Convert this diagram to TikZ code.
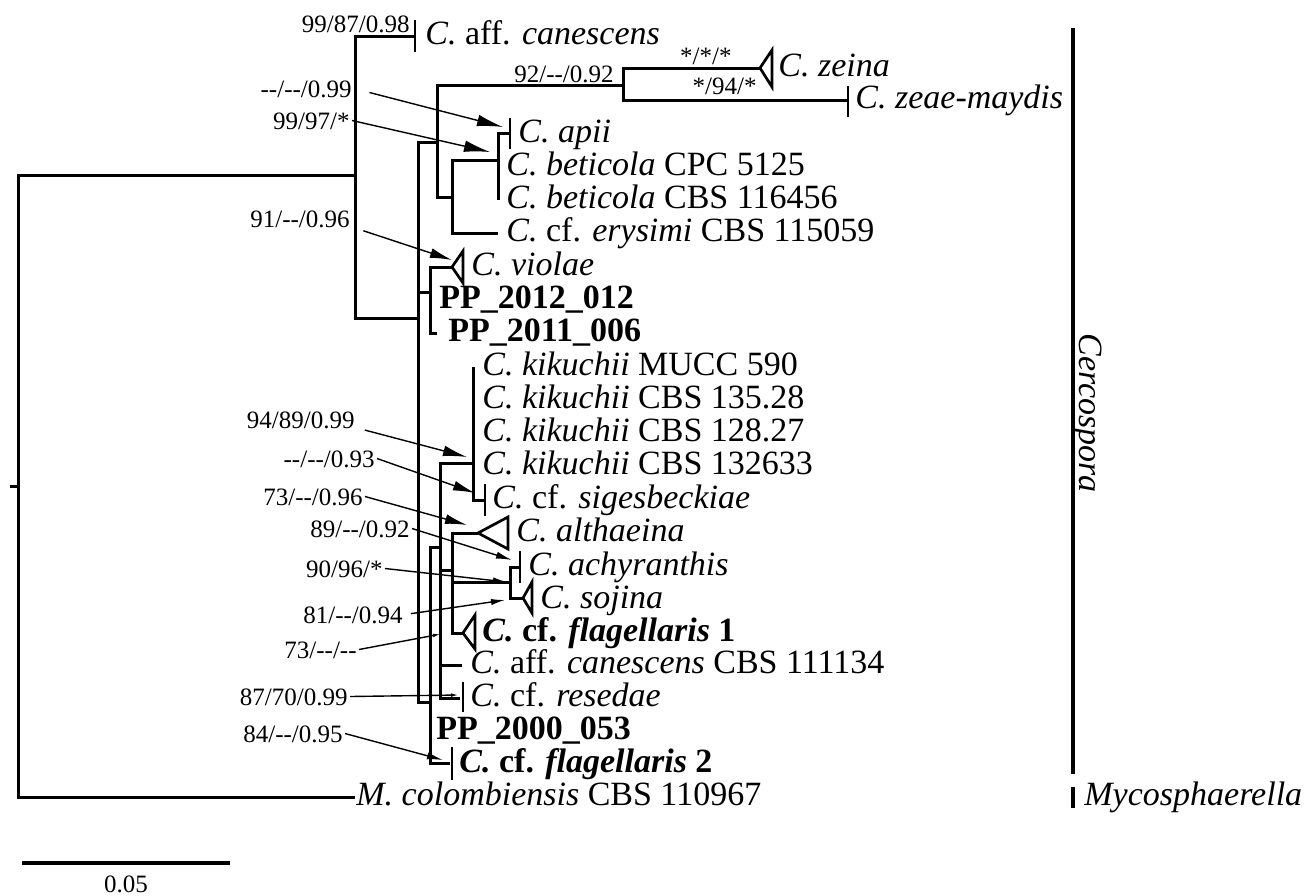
\documentclass[tikz,border=0pt]{standalone}
\usepackage{fontspec}
\setmainfont{Liberation Serif}
\usetikzlibrary{arrows.meta}

\begin{document}
\begin{tikzpicture}[x=0.5pt, y=-0.5pt,
      taxon/.style={anchor=west, inner sep=0pt, font=\fontsize{17}{20}\selectfont,
                    text height=12pt, text depth=3.4pt},
      bs/.style={anchor=base east, inner sep=1pt, font=\fontsize{12.5}{15}\selectfont,
                 text height=8.5pt, text depth=0pt},
      branch/.style={line width=1.5pt, line join=miter},
      tick/.style={line width=1.35pt},
      clade/.style={line width=1.6pt},
      ptr/.style={-{Latex[length=#1, width=0.45*#1]}, line width=0.7pt},
      ptr/.default=8pt]
    \useasboundingbox (0,0) rectangle (1310,895);

    % tree
    \draw[branch] (10,486) -- (18,486);
    \draw[branch] (355,175) -- (18,175) -- (18,797) -- (355,797);
    \draw[branch] (415,36) -- (355,36) -- (355,318) -- (418,318);
    \draw[branch] (437,142) -- (418,142) -- (418,702) -- (430,702);
    \draw[branch] (623,85) -- (437,85) -- (437,197) -- (452,197);
    \draw[branch] (760,68) -- (623,68) -- (623,100) -- (848,100);
    \draw[branch] (498,160) -- (452,160) -- (452,233) -- (498,233);
    \draw[branch] (510,133) -- (498,133) -- (498,200);
    \draw[branch] (418,292) -- (430,292);
    \draw[branch] (452,267) -- (430,267) -- (430,333) -- (437,333);
    \draw[branch] (440,547) -- (430,547) -- (430,763) -- (450,763);
    \draw[branch] (473,463) -- (440,463) -- (440,698) -- (460,698);
    \draw[branch] (473,367) -- (473,500) -- (485,500);
    \draw[branch] (440,570) -- (452,570);
    \draw[branch] (478,533) -- (452,533) -- (452,633) -- (463,633);
    \draw[branch] (452,582) -- (510,582);
    \draw[branch] (520,567) -- (510,567) -- (510,598) -- (523,598);
    \draw[branch] (440,665) -- (462,665);

    % collapsed clades
    \draw[tick] (760,68) -- (772,50) -- (772,87) -- cycle;
    \draw[tick] (452,267) -- (463,251) -- (463,283) -- cycle;
    \draw[tick] (478,533) -- (508,517) -- (508,549) -- cycle;
    \draw[tick] (523,598) -- (532,582) -- (532,613) -- cycle;
    \draw[tick] (463,633) -- (475,615) -- (475,649) -- cycle;
    \draw[tick] (415,20) -- (415,52);
    \draw[tick] (848,86) -- (848,117);
    \draw[tick] (510,118) -- (510,149);
    \draw[tick] (485,484) -- (485,516);
    \draw[tick] (520,551) -- (520,583);
    \draw[tick] (463,682) -- (463,712);
    \draw[tick] (452,747) -- (452,780);

    % taxa
    \node[taxon] (cana) at (425,36)  {\textit{C.} aff. \textit{canescens}};
    \node[taxon] (zein) at (778,68)  {\textit{C. zeina}};
    \node[taxon] (zeae) at (855,100) {\textit{C. zeae-maydis}};
    \node[taxon] (apii) at (518,134) {\textit{C. apii}};
    \node[taxon] (beta) at (506,167) {\textit{C. beticola} CPC 5125};
    \node[taxon] (betb) at (506,200) {\textit{C. beticola} CBS 116456};
    \node[taxon] (erys) at (506,233) {\textit{C.} cf. \textit{erysimi} CBS 115059};
    \node[taxon] (viol) at (471,267) {\textit{C. violae}};
    \node[taxon] (pp12) at (439,300) {\textbf{PP\_2012\_012}};
    \node[taxon] (pp11) at (448,333) {\textbf{PP\_2011\_006}};
    \node[taxon] (kik1) at (482,367) {\textit{C. kikuchii} MUCC 590};
    \node[taxon] (kik2) at (482,400) {\textit{C. kikuchii} CBS 135.28};
    \node[taxon] (kik3) at (482,433) {\textit{C. kikuchii} CBS 128.27};
    \node[taxon] (kik4) at (482,466) {\textit{C. kikuchii} CBS 132633};
    \node[taxon] (sige) at (492,500) {\textit{C.} cf. \textit{sigesbeckiae}};
    \node[taxon] (alth) at (516,533) {\textit{C. althaeina}};
    \node[taxon] (achy) at (528,567) {\textit{C. achyranthis}};
    \node[taxon] (soji) at (540,600) {\textit{C. sojina}};
    \node[taxon] (flg1) at (482,633) {\textbf{\textit{C.} cf. \textit{flagellaris} 1}};
    \node[taxon] (canb) at (470,665) {\textit{C.} aff. \textit{canescens} CBS 111134};
    \node[taxon] (rese) at (470,698) {\textit{C.} cf. \textit{resedae}};
    \node[taxon] (pp00) at (436,731) {\textbf{PP\_2000\_053}};
    \node[taxon] (flg2) at (459,764) {\textbf{\textit{C.} cf. \textit{flagellaris} 2}};
    \node[taxon] (mcol) at (356,797) {\textit{M. colombiensis} CBS 110967};

    % support values
    \node[bs] (bcan) at (412,32)  {99/87/0.98};
    \node[bs] (bapi) at (354,97)  {{-}{-}/{-}{-}/0.99};
    \node[bs] (bbet) at (352,129) {99/97/*};
    \node[bs] (bzea) at (616,82)  {92/{-}{-}/0.92};
    \node[bs] (bzei) at (734,64)  {*/*/*};
    \node[bs] (bzma) at (759,94)  {*/94/*};
    \node[bs] (bvio) at (352,227) {91/{-}{-}/0.96};
    \node[bs] (bkik) at (357,428) {94/89/0.99};
    \node[bs] (bsig) at (377,467) {{-}{-}/{-}{-}/0.93};
    \node[bs] (balt) at (365,505) {73/{-}{-}/0.96};
    \node[bs] (bach) at (412,537) {89/{-}{-}/0.92};
    \node[bs] (bacs) at (385,577) {90/96/*};
    \node[bs] (bsoj) at (405,623) {81/{-}{-}/0.94};
    \node[bs] (bfl1) at (359,658) {73/{-}{-}/{-}{-}};
    \node[bs] (bres) at (350,705) {87/70/0.99};
    \node[bs] (bfl2) at (345,742) {84/{-}{-}/0.95};

    \coordinate (tapi) at (503,127);
    \coordinate (tbet) at (490,152);
    \coordinate (tvio) at (452,260);
    \coordinate (tkik) at (467,457);
    \coordinate (tsig) at (475,493);
    \coordinate (talt) at (467,525);
    \coordinate (tach) at (512,560);
    \coordinate (tacs) at (507,582);
    \coordinate (tsoj) at (505,600);
    \coordinate (tfl1) at (441,634);
    \coordinate (tres) at (459,695);
    \coordinate (tfl2) at (443,760);

    \draw[ptr=13pt, shorten <=8pt] (bapi.east) -- (tapi);
    \draw[ptr=13pt] (bbet.east) -- (tbet);
    \draw[ptr=11pt, shorten <=6pt] (bvio.base east) -- (tvio);
    \draw[ptr=12pt, shorten <=4pt] (bkik.base east) -- (tkik);
    \draw[ptr=11pt] (bsig.east) -- (tsig);
    \draw[ptr=11pt] (balt.east) -- (talt);
    \draw[ptr=8pt] (bach.east) -- (tach);
    \draw[ptr=7pt] (bacs.east) -- (tacs);
    \draw[ptr=7pt, shorten <=3pt] (bsoj.east) -- (tsoj);
    \draw[ptr=4pt] (bfl1.east) -- (tfl1);
    \draw[ptr=4pt] (bres.east) -- (tres);
    \draw[ptr=8pt] (bfl2.east) -- (tfl2);

    % genera
    \draw[clade] (1073,28) -- (1073,774);
    \node[taxon, anchor=center, rotate=-90] (cerc) at (1088,413) {\textit{Cercospora}};
    \draw[clade] (1073,787) -- (1073,808);
    \node[taxon] (myco) at (1084,797) {\textit{Mycosphaerella}};

    % scale
    \draw[clade] (22,863) -- (230,863);
    \node[bs, anchor=center] (scl) at (126,884) {0.05};
  \end{tikzpicture}
\end{document}
